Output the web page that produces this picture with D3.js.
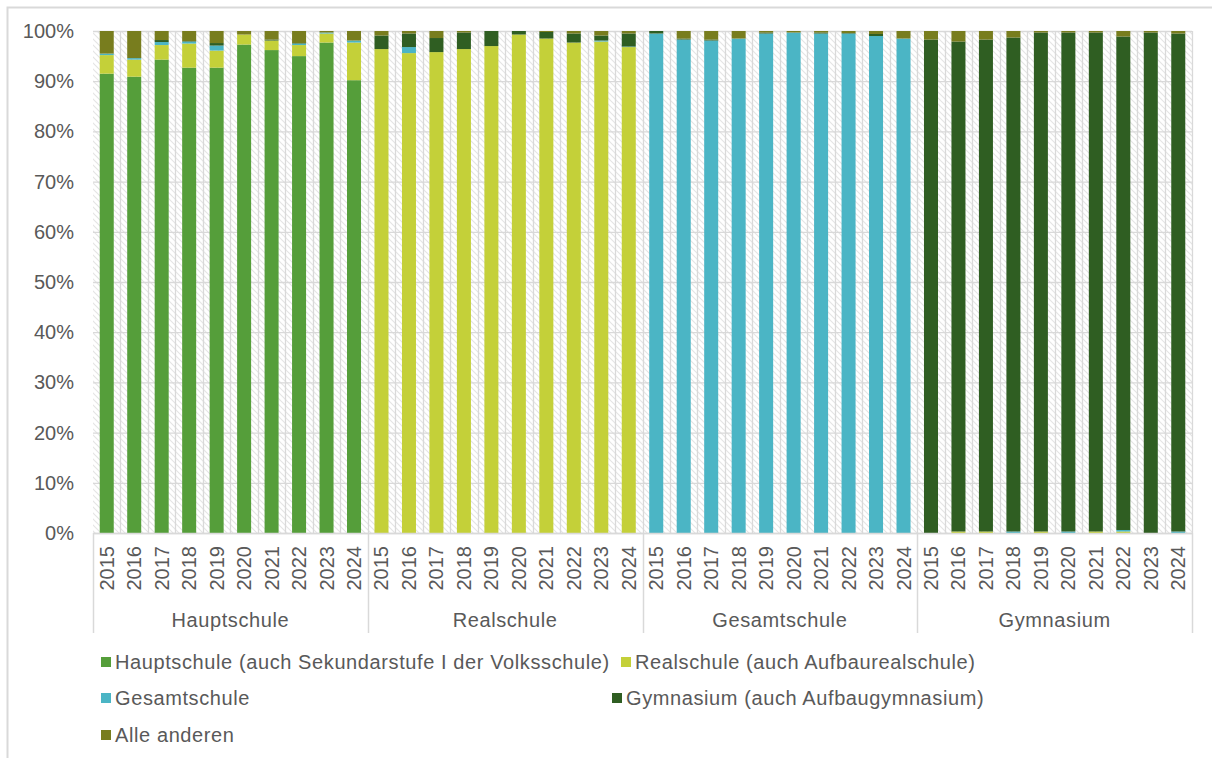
<!DOCTYPE html>
<html>
<head>
<meta charset="utf-8">
<script src="https://cdn.jsdelivr.net/npm/d3@7"></script>
<style>
  html, body { margin: 0; padding: 0; background: #fff; }
  svg { display: block; font-family: "Liberation Sans", Arial, sans-serif; }
</style>
</head>
<body>
<svg id="chart" width="1212" height="758"></svg>
<script>
/*--------------------------- Data ---------------------------*/

const GROUPS = ["Hauptschule", "Realschule", "Gesamtschule", "Gymnasium"];
const YEARS = ["2015", "2016", "2017", "2018", "2019", "2020", "2021", "2022", "2023", "2024"];
const SERIES = [
    "Hauptschule (auch Sekundarstufe I der Volksschule)",
    "Realschule (auch Aufbaurealschule)",
    "Gesamtschule",
    "Gymnasium (auch Aufbaugymnasium)",
    "Alle anderen"
];
const Y_TICKS = [0, 10, 20, 30, 40, 50, 60, 70, 80, 90, 100];

// shares in %, 40 values each: group by group, years 2015..2024
const HAUPT = [
    91.5, 90.9, 94.3, 92.7, 92.7, 97.3, 96.2, 95.0, 97.7, 90.2,
    0, 0, 0, 0, 0, 0, 0, 0, 0, 0,
    0, 0, 0, 0, 0, 0, 0, 0, 0, 0,
    0, 0, 0, 0, 0, 0, 0, 0, 0, 0
];
const REAL = [
    3.7, 3.4, 2.9, 4.8, 3.4, 2.0, 1.9, 2.2, 1.8, 7.5,
    96.4, 95.6, 95.8, 96.4, 97.0, 99.3, 98.5, 97.7, 97.9, 96.8,
    0, 0, 0, 0, 0, 0, 0, 0, 0, 0,
    0, 0.3, 0.3, 0, 0.3, 0, 0.3, 0.3, 0, 0
];
const GESAMT = [
    0.3, 0.3, 0.6, 0.4, 1.0, 0, 0, 0.3, 0.2, 0.4,
    0, 1.2, 0, 0, 0, 0, 0, 0, 0.2, 0.1,
    99.5, 98.3, 98.1, 98.5, 99.5, 99.7, 99.5, 99.5, 99.0, 98.5,
    0, 0, 0, 0.3, 0, 0.3, 0, 0.3, 0, 0.3
];
const GYMN = [
    0, 0, 0.4, 0.1, 0.5, 0, 0.2, 0.1, 0, 0,
    2.7, 2.7, 2.8, 3.3, 3.0, 0.7, 1.3, 1.8, 1.0, 2.6,
    0.5, 0.2, 0.2, 0, 0.2, 0, 0.2, 0.1, 0.4, 0,
    98.3, 97.6, 98.0, 98.4, 99.4, 99.4, 99.4, 98.3, 99.7, 99.2
];
const ANDERE = [
    4.5, 5.4, 1.8, 2.0, 2.4, 0.7, 1.7, 2.4, 0.3, 1.9,
    0.9, 0.5, 1.4, 0.3, 0, 0, 0.2, 0.5, 0.9, 0.5,
    0, 1.5, 1.7, 1.5, 0.3, 0.3, 0.3, 0.4, 0.6, 1.5,
    1.7, 2.1, 1.7, 1.3, 0.3, 0.3, 0.3, 1.1, 0.3, 0.5
];

/*--------------------------- Init ---------------------------*/

const WIDTH = 1212;
const HEIGHT = 758;
const PLOT = { left: 93, right: 1192, top: 31, bottom: 533 };
const COLOR = ["#559E3A", "#C4D039", "#4BB5C5", "#2F5E22", "#787D1E"];
const TEXT_COLOR = "#595959";
const LINE_COLOR = "#d9d9d9";
const FONT_SIZE = 20;
const LABEL_SPACING = "0.6px";

const VALUES = [HAUPT, REAL, GESAMT, GYMN, ANDERE];

const rows = [];
GROUPS.forEach((g, gi) => {
    YEARS.forEach((y, yi) => {
        const i = gi * YEARS.length + yi;
        const row = { key: g + "|" + y, group: g, year: y };
        SERIES.forEach((s, si) => { row[s] = VALUES[si][i]; });
        rows.push(row);
    });
});

const stacked = d3.stack().keys(SERIES)(rows);

const svg = d3.select("#chart");

const xScale = d3.scaleBand()
    .domain(rows.map(d => d.key))
    .range([PLOT.left, PLOT.right])
    .paddingInner(0.49)
    .paddingOuter(0.245);
const step = xScale.step();
const yScale = d3.scaleLinear().domain([0, 100]).range([PLOT.bottom, PLOT.top]);

// outer frame
svg.append("path")
    .attr("d", `M7.5,${HEIGHT}V7.5H${WIDTH}`)
    .attr("fill", "none")
    .attr("stroke", LINE_COLOR)
    .attr("stroke-width", 2);

// hatch pattern for plot background
const defs = svg.append("defs");
const pat = defs.append("pattern")
    .attr("id", "hatch")
    .attr("patternUnits", "userSpaceOnUse")
    .attr("width", 6)
    .attr("height", 6);
pat.append("rect").attr("width", 6).attr("height", 6).attr("fill", "#fff");
pat.append("path")
    .attr("d", "M-1,-1L7,7M-4,2L2,8M4,-2L8,2")
    .attr("stroke", "#e4e4e4")
    .attr("stroke-width", 1.1);

svg.append("rect")
    .attr("x", PLOT.left)
    .attr("y", PLOT.top)
    .attr("width", PLOT.right - PLOT.left)
    .attr("height", PLOT.bottom - PLOT.top)
    .attr("fill", "url(#hatch)");

// vertical gridlines at category boundaries
const grid = svg.append("g").attr("stroke", LINE_COLOR).attr("stroke-width", 1.3);
rows.forEach((d, i) => {
    const x = Math.round(PLOT.left + step * (i + 1)) + 0.5;
    if (i < rows.length - 1) {
        grid.append("line").attr("x1", x).attr("x2", x).attr("y1", PLOT.top).attr("y2", PLOT.bottom);
    }
});

// horizontal gridlines / y-axis
const yAxis = d3.axisLeft(yScale)
    .tickValues(Y_TICKS)
    .tickFormat(d => d + "%")
    .tickSize(-(PLOT.right - PLOT.left))
    .tickPadding(19);
const yG = svg.append("g")
    .attr("transform", `translate(${PLOT.left},0)`)
    .call(yAxis);
yG.select(".domain").remove();
yG.selectAll(".tick line").attr("stroke", LINE_COLOR).attr("stroke-width", 1.3);
yG.selectAll(".tick text")
    .attr("fill", TEXT_COLOR)
    .style("font-size", FONT_SIZE + "px")
    .style("font-family", "Liberation Sans, Arial, sans-serif");

// right border of plot
svg.append("line")
    .attr("x1", PLOT.right + 0.5).attr("x2", PLOT.right + 0.5)
    .attr("y1", PLOT.top).attr("y2", PLOT.bottom)
    .attr("stroke", LINE_COLOR).attr("stroke-width", 1.3);

// bars
svg.append("g")
    .selectAll("g")
    .data(stacked)
    .join("g")
    .attr("fill", (d, i) => COLOR[i])
    .selectAll("rect")
    .data(d => d)
    .join("rect")
    .attr("x", d => xScale(d.data.key))
    .attr("width", xScale.bandwidth())
    .attr("y", d => yScale(d[1]))
    .attr("height", d => Math.max(0, yScale(d[0]) - yScale(d[1])));

// x-axis: years
const xAxis = svg.append("g");
xAxis.append("line")
    .attr("x1", PLOT.left).attr("x2", PLOT.right)
    .attr("y1", PLOT.bottom + 0.5).attr("y2", PLOT.bottom + 0.5)
    .attr("stroke", LINE_COLOR).attr("stroke-width", 1.5);

xAxis.selectAll(".year")
    .data(rows)
    .join("text")
    .attr("class", "year")
    .attr("transform", d => `translate(${xScale(d.key) + xScale.bandwidth() / 2},${PLOT.bottom + 13}) rotate(-90)`)
    .attr("text-anchor", "end")
    .attr("dominant-baseline", "central")
    .attr("fill", TEXT_COLOR)
    .style("font-size", FONT_SIZE + "px")
    .text(d => d.year);

// group separators and labels
const groupScale = d3.scaleBand().domain(GROUPS).range([PLOT.left, PLOT.right]);
GROUPS.forEach(g => {
    const x0 = Math.round(groupScale(g)) + 0.5;
    xAxis.append("line")
        .attr("x1", x0).attr("x2", x0)
        .attr("y1", PLOT.bottom).attr("y2", 633)
        .attr("stroke", LINE_COLOR).attr("stroke-width", 1.5);
    xAxis.append("text")
        .attr("x", groupScale(g) + groupScale.bandwidth() / 2)
        .attr("y", 627)
        .attr("text-anchor", "middle")
        .attr("fill", TEXT_COLOR)
        .style("font-size", FONT_SIZE + "px")
        .style("letter-spacing", LABEL_SPACING)
        .text(g);
});
xAxis.append("line")
    .attr("x1", PLOT.right + 0.5).attr("x2", PLOT.right + 0.5)
    .attr("y1", PLOT.bottom).attr("y2", 633)
    .attr("stroke", LINE_COLOR).attr("stroke-width", 1.5);

// legend
const LEGEND_POS = [[101, 662], [621, 662], [101, 698], [612, 698], [101, 735]];
const legend = svg.append("g");
SERIES.forEach((s, i) => {
    const [lx, ly] = LEGEND_POS[i];
    legend.append("rect")
        .attr("x", lx).attr("y", ly - 5)
        .attr("width", 10).attr("height", 10)
        .attr("fill", COLOR[i]);
    legend.append("text")
        .attr("x", lx + 14).attr("y", ly)
        .attr("dominant-baseline", "central")
        .attr("fill", TEXT_COLOR)
        .style("font-size", FONT_SIZE + "px")
        .style("letter-spacing", LABEL_SPACING)
        .text(s);
});
</script>
</body>
</html>
